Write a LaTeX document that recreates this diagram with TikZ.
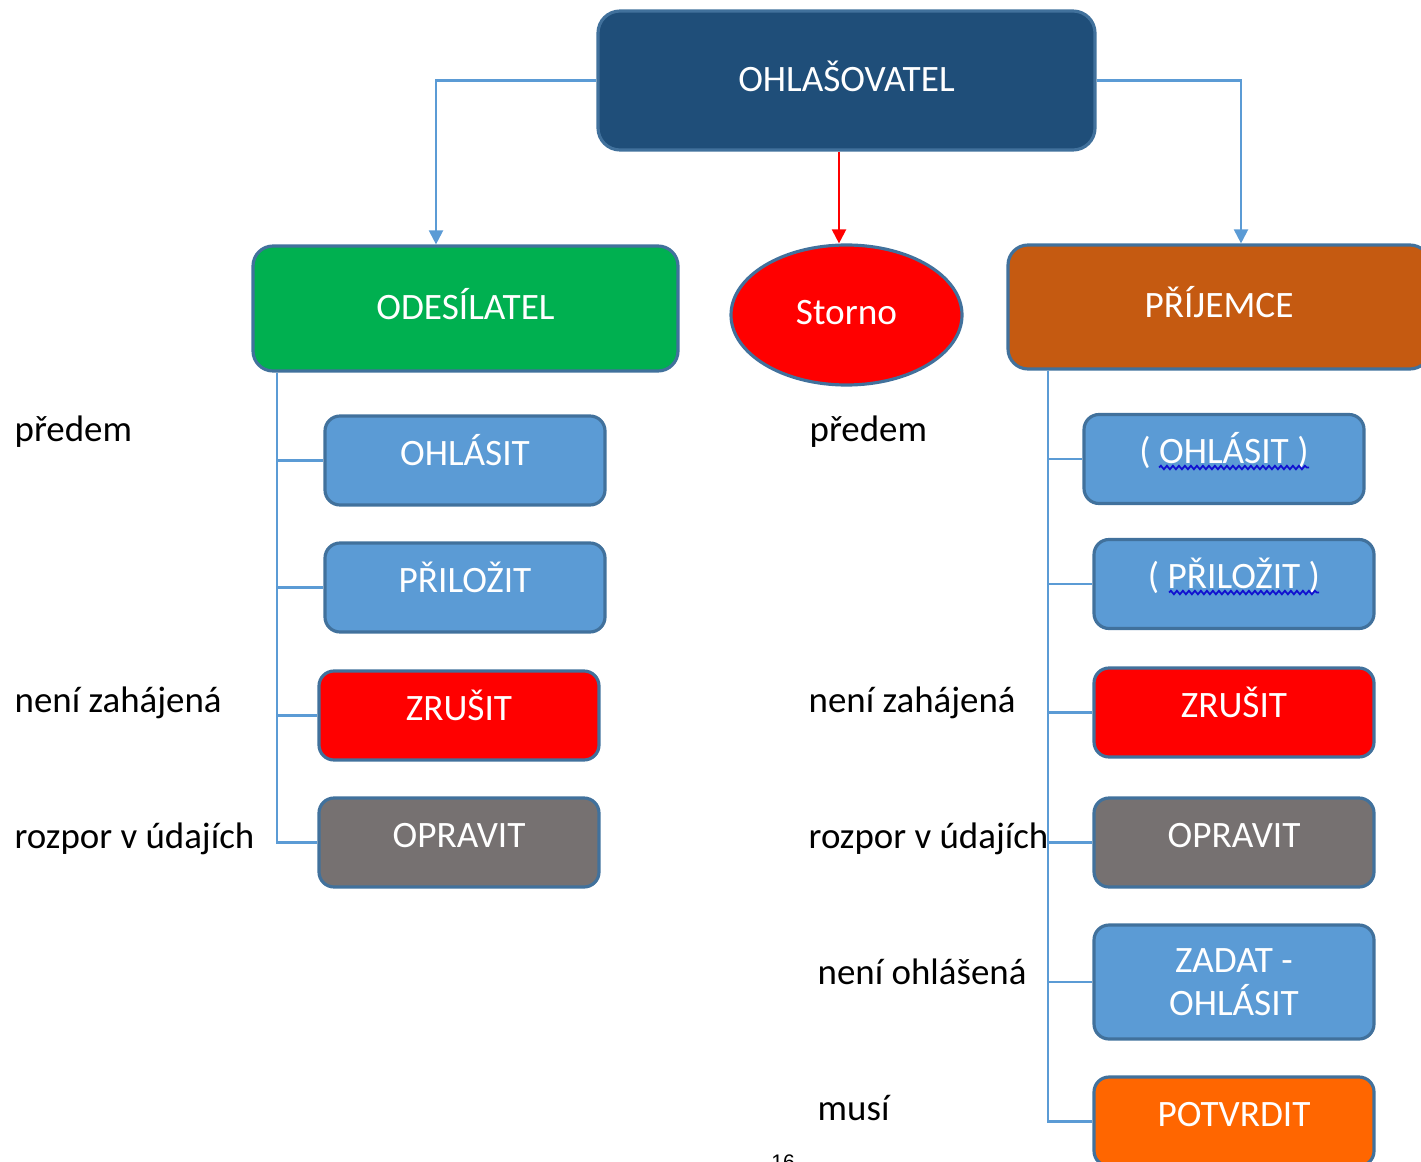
\documentclass[tikz,border=0pt]{standalone}
\usepackage{fontspec}
\setmainfont{Carlito}
\newfontfamily\pagefont{Liberation Sans}
\usepackage{xcolor}
\usetikzlibrary{arrows.meta,calc,shapes.geometric,decorations.pathmorphing}
\definecolor{headblue}{HTML}{1F4E79}
\definecolor{frameblue}{HTML}{41719C}
\definecolor{sendgreen}{HTML}{00B050}
\definecolor{recvorange}{HTML}{C55A11}
\definecolor{actblue}{HTML}{5B9BD5}
\definecolor{fixgray}{HTML}{767171}
\definecolor{confirmorange}{HTML}{FF6600}
\definecolor{spellblue}{HTML}{1010D0}

\begin{document}
\begin{tikzpicture}[%
% common options for the boxes:
box/.style = {draw=frameblue, line width=0.9pt, rounded corners=0.15cm, text=white,
            minimum width=2.8cm, minimum height=0.89cm, inner sep=0, align=center,
            font=\fontsize{10.6}{12.2}\selectfont, text height=0.25cm, text depth=0.16cm},
bigbox/.style = {box, rounded corners=0.2cm, text depth=0.03cm},
oval/.style = {ellipse, draw=frameblue, line width=0.9pt, fill=red, text=white,
            minimum width=2.31cm, minimum height=1.40cm, inner sep=0,
            font=\fontsize{10.6}{12.2}\selectfont, text height=0.25cm, text depth=0.05cm},
% the texts beside the boxes:
note/.style = {anchor=west, inner sep=0, font=\fontsize{10.5}{12.2}\selectfont,
            text height=0.25cm, text depth=0.08cm},
% common options for the lines:
conn/.style = {draw=actblue, line width=0.6pt},
tip/.style = {-{Triangle[width=0.14cm,length=0.14cm]}},
spell/.style = {draw=spellblue, line width=0.5pt,
            decorate, decoration={snake, segment length=0.06cm, amplitude=0.018cm}}]
\useasboundingbox (0,0) rectangle (14.21,-11.61);
\node[bigbox, fill=headblue, minimum width=4.97cm, minimum height=1.39cm, rounded corners=0.22cm] (O0) at (8.465,-0.805) {OHLAŠOVATEL};
\node[bigbox, fill=sendgreen, minimum width=4.25cm, minimum height=1.25cm] (A0) at (4.655,-3.085) {ODESÍLATEL};
\node[oval] (S0) at (8.465,-3.15) {Storno};
\node[bigbox, fill=recvorange, minimum width=4.22cm, minimum height=1.24cm] (B0) at (12.19,-3.07) {PŘÍJEMCE};
% left column
\node[box, fill=actblue] (A1) at (4.65,-4.605) {OHLÁSIT};
\node[box, fill=actblue] (A2) at (4.65,-5.875) {PŘILOŽIT};
\node[box, fill=red] (A3) at (4.59,-7.155) {ZRUŠIT};
\node[box, fill=fixgray] (A4) at (4.59,-8.425) {OPRAVIT};
% right column
\node[box, fill=actblue] (B1) at (12.24,-4.59) {( OHLÁSIT )};
\node[box, fill=actblue] (B2) at (12.34,-5.84) {( PŘILOŽIT )};
\node[box, fill=red] (B3) at (12.34,-7.125) {ZRUŠIT};
\node[box, fill=fixgray] (B4) at (12.34,-8.425) {OPRAVIT};
\node[box, fill=actblue, minimum height=1.14cm, text height={}, text depth={}] (B5) at (12.34,-9.82) {ZADAT -\\OHLÁSIT};
\node[box, fill=confirmorange] (B6) at (12.34,-11.215) {POTVRDIT};
% texts
\node[note] (LA1) at (0.14,-4.33) {předem};
\node[note] (LA3) at (0.14,-7.04) {není zahájená};
\node[note] (LA4) at (0.14,-8.40) {rozpor v údajích};
\node[note] (LB1) at (8.09,-4.33) {předem};
\node[note] (LB3) at (8.08,-7.04) {není zahájená};
\node[note] (LB4) at (8.08,-8.40) {rozpor v údajích};
\node[note] (LB5) at (8.17,-9.76) {není ohlášená};
\node[note] (LB6) at (8.17,-11.12) {musí};
\node[anchor=north, inner sep=0, font=\pagefont\fontsize{6}{7}\selectfont] (P) at (7.83,-11.54) {16};
% lines
\draw[conn, tip] (O0.west) -| ([xshift=-0.295cm]A0.north);
\draw[conn, tip] (O0.east) -| ([xshift=0.22cm]B0.north);
\draw[red, line width=0.6pt, tip] ([xshift=-0.075cm]O0.south) -- ([xshift=-0.075cm]S0.north);
\coordinate (tA) at ($(A0.south west)+(0.26,0)$);
\coordinate (tB) at ($(B0.south west)+(0.42,0)$);
\foreach \n in {1,...,4} \draw[conn] (tA) |- (A\n.west);
\foreach \n in {1,...,6} \draw[conn] (tB) |- (B\n.west);
\draw[spell] ($(B1.center)+(-0.65,-0.085)$) -- ($(B1.center)+(0.85,-0.085)$);
\draw[spell] ($(B2.center)+(-0.65,-0.085)$) -- ($(B2.center)+(0.85,-0.085)$);
\end{tikzpicture}
\end{document}
